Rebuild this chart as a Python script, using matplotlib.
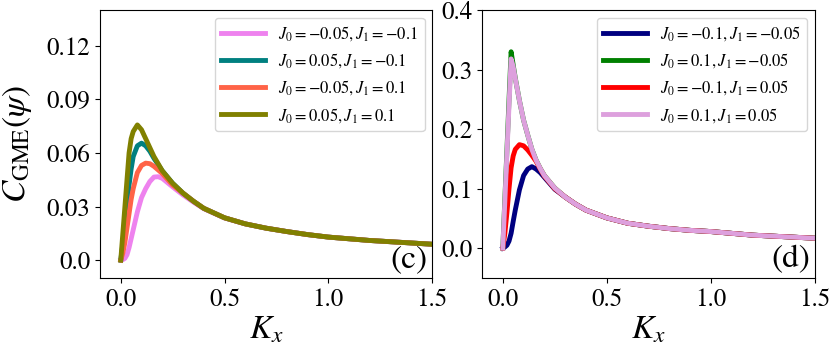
import numpy as np
import matplotlib
matplotlib.use('Agg')
import matplotlib.pyplot as plt

plt.rcParams['font.family'] = 'STIXGeneral'
plt.rcParams['mathtext.fontset'] = 'stix'

# panel (c)
kx_c = [0, 0.01, 0.02, 0.03, 0.04, 0.05, 0.06, 0.08, 0.10, 0.12, 0.14, 0.16, 0.18, 0.20,
        0.25, 0.30, 0.35, 0.40, 0.50, 0.60, 0.70, 0.80, 0.90, 1.00, 1.20, 1.50]
tail_c = [0.0375, 0.033, 0.029, 0.0237, 0.0203, 0.0179, 0.0160, 0.0143, 0.0129, 0.0110, 0.0089]
c_violet = [0, 0.0003, 0.001, 0.003, 0.007, 0.012, 0.017, 0.027, 0.035, 0.040, 0.044, 0.0465,
            0.0467, 0.0458, 0.041, 0.0365, 0.0325, 0.0288, 0.0236, 0.0203, 0.0179, 0.0160,
            0.0143, 0.0129, 0.0110, 0.0089]
c_teal = [0, 0.009, 0.020, 0.031, 0.042, 0.051, 0.058, 0.064, 0.0655, 0.064, 0.061, 0.057,
          0.0535, 0.050, 0.043] + tail_c
c_tomato = [0, 0.004, 0.010, 0.018, 0.026, 0.034, 0.040, 0.049, 0.053, 0.0543, 0.054, 0.0525,
            0.0505, 0.0485, 0.042] + tail_c
c_olive = [0, 0.015, 0.030, 0.045, 0.060, 0.068, 0.072, 0.0757, 0.073, 0.068, 0.063, 0.058,
           0.054, 0.050, 0.043] + tail_c
labels_c = [r'$J_0=-0.05, J_1=-0.1$', r'$J_0=0.05, J_1=-0.1$',
            r'$J_0=-0.05, J_1=0.1$', r'$J_0=0.05, J_1=0.1$']

# panel (d)
kx_d = kx_c
tail_d = [0.086, 0.074, 0.064, 0.051, 0.042, 0.037, 0.033, 0.030, 0.028, 0.022, 0.0168]
d_navy = [0, 0.002, 0.005, 0.012, 0.025, 0.045, 0.064, 0.098, 0.122, 0.133, 0.137, 0.133,
          0.127, 0.119, 0.099] + tail_d
d_green = [0, 0.083, 0.166, 0.250, 0.330, 0.308, 0.286, 0.248, 0.215, 0.190, 0.166, 0.148,
           0.134, 0.122, 0.101] + tail_d
d_red = [0, 0.025, 0.060, 0.100, 0.135, 0.155, 0.166, 0.174, 0.172, 0.165, 0.156, 0.146,
         0.133, 0.121, 0.100] + tail_d
d_plum = [0, 0.080, 0.160, 0.240, 0.318, 0.305, 0.285, 0.248, 0.215, 0.190, 0.166, 0.148,
          0.134, 0.122, 0.101] + tail_d
labels_d = [r'$J_0=-0.1, J_1=-0.05$', r'$J_0=0.1, J_1=-0.05$',
            r'$J_0=-0.1, J_1=0.05$', r'$J_0=0.1, J_1=0.05$']

fig = plt.figure(figsize=(8.3, 3.53), dpi=100)
ax1 = fig.add_axes([0.1205, 0.2125, 0.400, 0.759])
ax2 = fig.add_axes([0.5807, 0.2125, 0.401, 0.759])

lw = 3.5
for y, col, lab in zip([c_violet, c_teal, c_tomato, c_olive],
                       ['violet', 'teal', 'tomato', 'olive'], labels_c):
    ax1.plot(kx_c, y, color=col, lw=lw, label=lab)
for y, col, lab in zip([d_navy, d_green, d_red, d_plum],
                       ['navy', 'green', 'red', 'plum'], labels_d):
    ax2.plot(kx_d, y, color=col, lw=lw, label=lab)

ax1.set_xlim(-0.1, 1.5)
ax1.set_ylim(-0.01, 0.14)
ax1.set_yticks([0.0, 0.03, 0.06, 0.09, 0.12])
ax1.set_yticklabels(['0.0', '0.03', '0.06', '0.09', '0.12'])
ax2.set_xlim(-0.1, 1.5)
ax2.set_ylim(-0.05, 0.4)
ax2.set_yticks([0.0, 0.1, 0.2, 0.3, 0.4])

for ax in (ax1, ax2):
    ax.set_xticks([0.0, 0.5, 1.0, 1.5])
    ax.tick_params(labelsize=18)
    ax.set_xlabel(r'$K_x$', fontsize=24)
    ax.xaxis.set_label_coords(0.5, -0.14)
    ax.legend(loc='upper right', fontsize=12, handlelength=2.6, labelspacing=0.5,
              borderaxespad=0.45)

ax1.set_ylabel(r'$C_{\mathrm{GME}}(\psi)$', fontsize=24)
ax1.yaxis.set_label_coords(-0.20, 0.5)
ax1.text(0.985, 0.015, '(c)', transform=ax1.transAxes, fontsize=24, ha='right', va='bottom')
ax2.text(0.985, 0.015, '(d)', transform=ax2.transAxes, fontsize=24, ha='right', va='bottom')

plt.savefig('out.png', dpi=100)
